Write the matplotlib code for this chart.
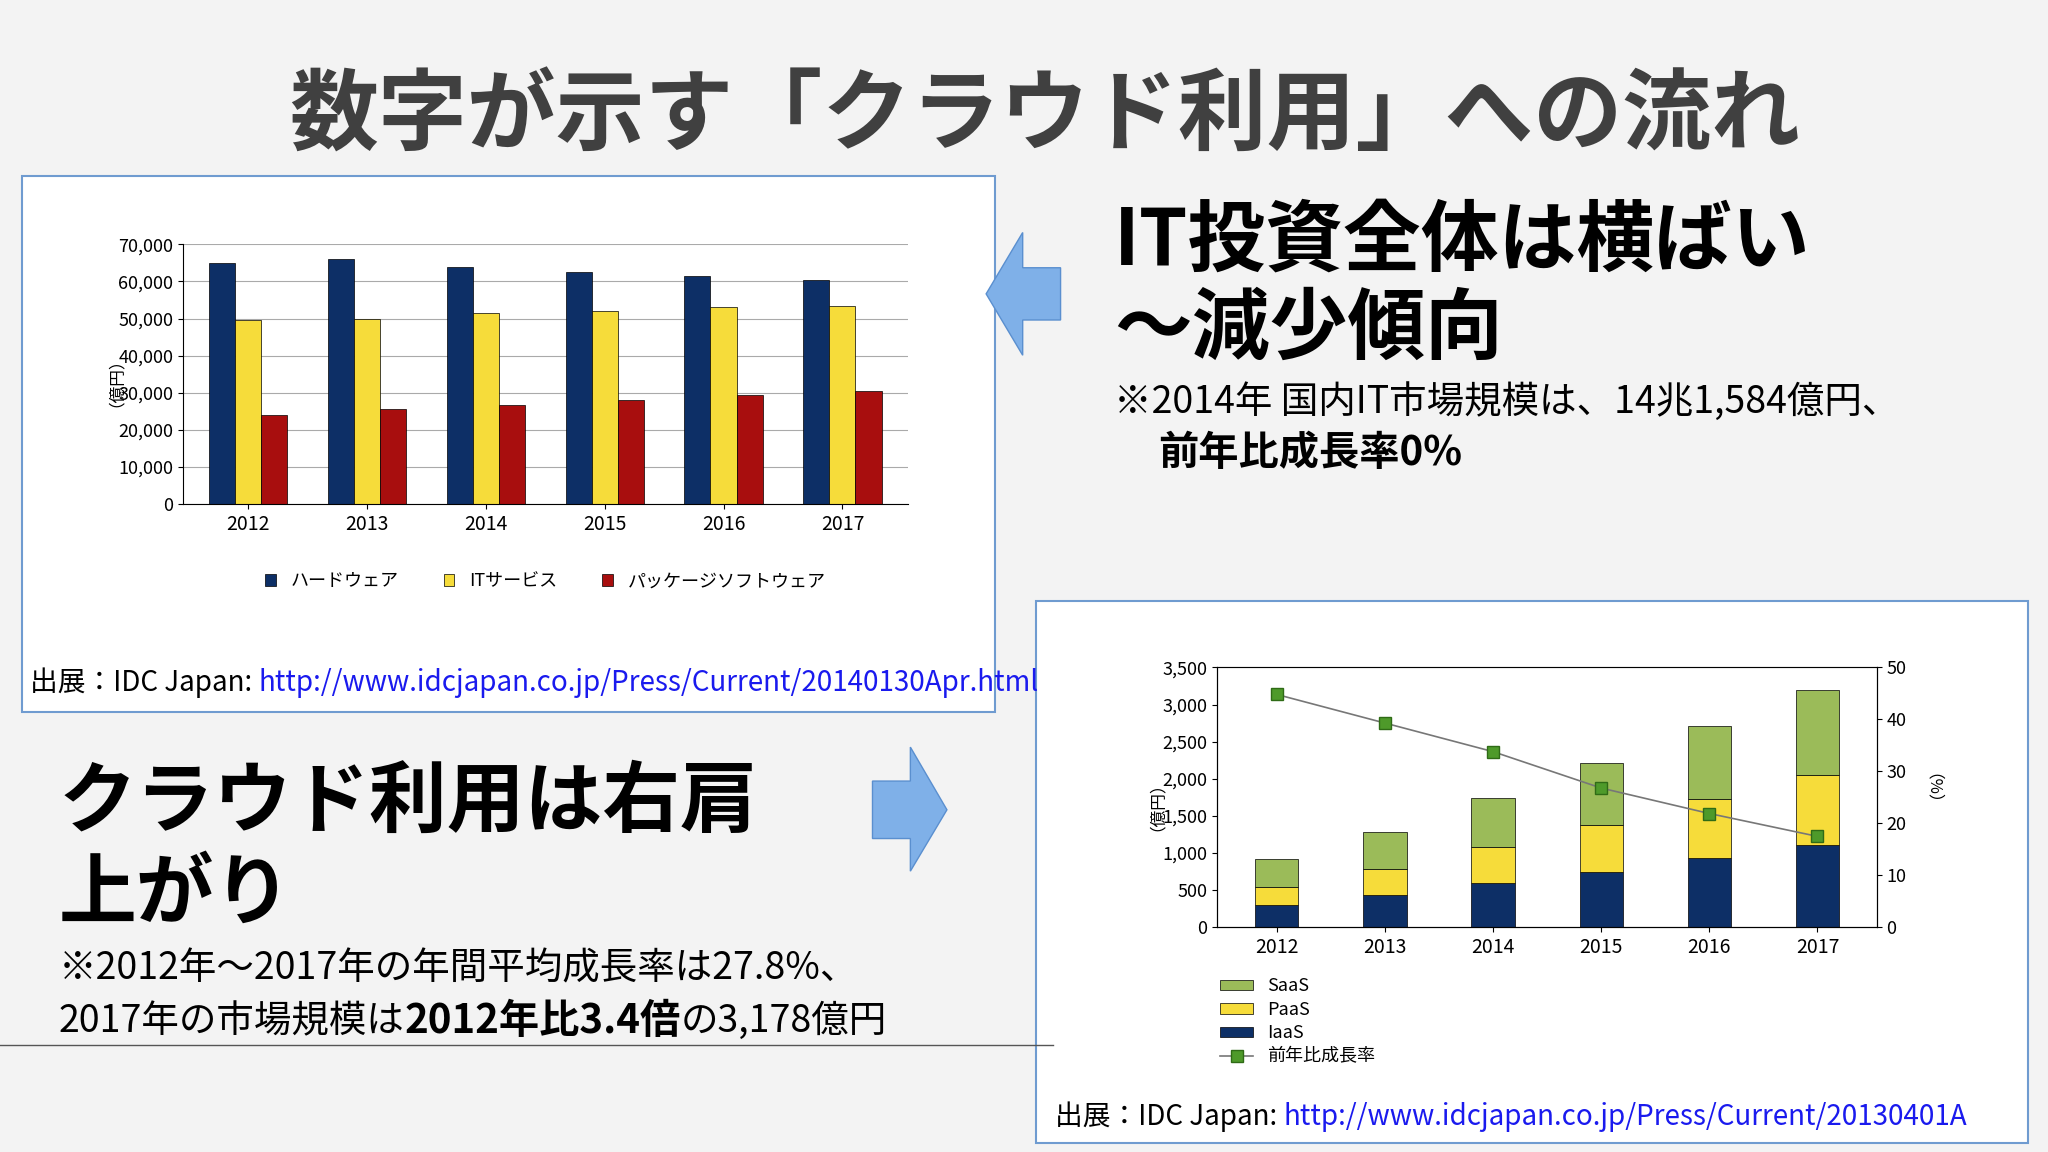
import matplotlib
matplotlib.use("Agg")
import matplotlib.pyplot as plt
import numpy as np
from matplotlib.patches import Rectangle, Polygon

plt.rcParams['font.family'] = ['Noto Sans CJK JP', 'DejaVu Sans']

years = ['2012', '2013', '2014', '2015', '2016', '2017']
hardware = [65000, 66000, 64000, 62500, 61500, 60500]
itservice = [49500, 50000, 51500, 52000, 53000, 53500]
package = [24000, 25500, 26800, 28000, 29300, 30500]

iaas = [300, 440, 600, 750, 940, 1110]
paas = [250, 350, 480, 630, 790, 940]
saas = [370, 500, 660, 830, 980, 1140]
growth = [44.8, 39.3, 33.8, 26.8, 21.9, 17.5]

W, H = 1568, 882
fig = plt.figure(figsize=(20.48, 11.52), dpi=100)
fig.patch.set_facecolor('#f3f3f3')

def fx(x): return x / W
def fy(y): return 1 - y / H

fig.text(0.51, fy(90), '数字が示す「クラウド利用」への流れ', ha='center', va='center',
         fontsize=64, fontweight='bold', color='#404040')

# frames
for (x0, y0, x1, y1) in [(17, 135, 762, 545), (793, 460, 1553, 875)]:
    fig.patches.append(Rectangle((fx(x0), fy(y1)), fx(x1 - x0), (y1 - y0) / H,
                                 transform=fig.transFigure, facecolor='white',
                                 edgecolor='#6f9bd0', lw=1.5, zorder=-5))

# chart 1
ax1 = fig.add_axes([fx(140), fy(386), fx(555), (386 - 187) / H])
ax1.set_zorder(5)
x = np.arange(len(years))
w = 0.22
ax1.bar(x - w, hardware, w, color='#0d2f66', edgecolor='black', lw=0.5, label='ハードウェア')
ax1.bar(x, itservice, w, color='#f6dc3a', edgecolor='black', lw=0.5, label='ITサービス')
ax1.bar(x + w, package, w, color='#a80e0e', edgecolor='black', lw=0.5, label='パッケージソフトウェア')
ax1.set_ylim(0, 70000)
ax1.set_xlim(-0.55, 5.55)
ax1.set_yticks(range(0, 70001, 10000))
ax1.set_yticklabels([f'{v:,}' for v in range(0, 70001, 10000)], fontsize=13)
ax1.set_xticks(x)
ax1.set_xticklabels(years, fontsize=14)
ax1.yaxis.grid(True, color='#aaaaaa', lw=0.8)
ax1.set_axisbelow(True)
for s in ['top', 'right']:
    ax1.spines[s].set_visible(False)
ax1.set_ylabel('（億円）', fontsize=12, labelpad=2)
ax1.legend(loc='upper center', bbox_to_anchor=(0.5, -0.2), ncol=3, frameon=False,
           fontsize=13, handlelength=0.6, handleheight=0.6, columnspacing=2.5)

# chart 2
ax2 = fig.add_axes([fx(932), fy(710), fx(505), (710 - 511) / H])
ax2.set_zorder(5)
w2 = 0.4
ax2.bar(x, iaas, w2, color='#0d2f66', edgecolor='black', lw=0.5, label='IaaS')
ax2.bar(x, paas, w2, bottom=iaas, color='#f6dc3a', edgecolor='black', lw=0.5, label='PaaS')
bot = np.array(iaas) + np.array(paas)
ax2.bar(x, saas, w2, bottom=bot, color='#9bbb59', edgecolor='black', lw=0.5, label='SaaS')
ax2.set_ylim(0, 3500)
ax2.set_xlim(-0.55, 5.55)
ax2.set_yticks(range(0, 3501, 500))
ax2.set_yticklabels([f'{v:,}' for v in range(0, 3501, 500)], fontsize=13)
ax2.set_xticks(x)
ax2.set_xticklabels(years, fontsize=14)
ax2.spines['top'].set_color('#888888')
ax2.set_ylabel('（億円）', fontsize=12)
ax2b = ax2.twinx()
ax2b.set_zorder(6)
ln, = ax2b.plot(x, growth, color='#777777', lw=1.2, marker='s', ms=8,
                markerfacecolor='#4e9a2a', markeredgecolor='#2f6b16', label='前年比成長率')
ax2b.set_ylim(0, 50)
ax2b.set_yticks(range(0, 51, 10))
ax2b.tick_params(labelsize=13)
ax2b.set_ylabel('（%）', fontsize=12, rotation=270, labelpad=18)
h, l = ax2.get_legend_handles_labels()
ax2.legend(h[::-1] + [ln], l[::-1] + ['前年比成長率'], loc='upper left',
           bbox_to_anchor=(-0.02, -0.13), frameon=False, fontsize=13,
           handlelength=1.8, handleheight=0.5, labelspacing=0.3)

# arrows
fig.patches.append(Polygon([[fx(755), fy(225)], [fx(783), fy(178)], [fx(783), fy(205)],
                            [fx(812), fy(205)], [fx(812), fy(245)], [fx(783), fy(245)],
                            [fx(783), fy(272)]], closed=True, transform=fig.transFigure,
                           facecolor='#7fb0e8', edgecolor='#5a8fcf'))
fig.patches.append(Polygon([[fx(725), fy(620)], [fx(697), fy(572)], [fx(697), fy(598)],
                            [fx(668), fy(598)], [fx(668), fy(642)], [fx(697), fy(642)],
                            [fx(697), fy(667)]], closed=True, transform=fig.transFigure,
                           facecolor='#7fb0e8', edgecolor='#5a8fcf'))

# right texts
fig.text(fx(853), fy(185), 'IT投資全体は横ばい', fontsize=56, fontweight='bold', va='center')
fig.text(fx(853), fy(253), '～減少傾向', fontsize=56, fontweight='bold', va='center')
fig.text(fx(853), fy(308), '※2014年 国内IT市場規模は、14兆1,584億円、', fontsize=27, va='center')
fig.text(fx(887), fy(347), '前年比成長率0%', fontsize=29, fontweight='bold', va='center')

fig.text(fx(45), fy(615), 'クラウド利用は右肩', fontsize=56, fontweight='bold', va='center')
fig.text(fx(45), fy(685), '上がり', fontsize=56, fontweight='bold', va='center')
fig.text(fx(45), fy(742), '※2012年～2017年の年間平均成長率は27.8%、', fontsize=27, va='center')

fig.canvas.draw()
r = fig.canvas.get_renderer()
def seq(x0, y, parts):
    xx = x0
    for s, kw in parts:
        t = fig.text(xx, y, s, va='center', **kw)
        bb = t.get_window_extent(r)
        xx += bb.width / fig.bbox.width
seq(fx(45), fy(782), [('2017年の市場規模は', dict(fontsize=27)),
                      ('2012年比3.4倍', dict(fontsize=29, fontweight='bold')),
                      ('の3,178億円', dict(fontsize=27))])
seq(fx(23), fy(523), [('出展：IDC Japan: ', dict(fontsize=20)),
                      ('http://www.idcjapan.co.jp/Press/Current/20140130Apr.html',
                       dict(fontsize=20, color='#1a1aee'))])
seq(fx(808), fy(855), [('出展：IDC Japan: ', dict(fontsize=20)),
                       ('http://www.idcjapan.co.jp/Press/Current/20130401A',
                        dict(fontsize=20, color='#1a1aee'))])

fig.add_artist(plt.Line2D([0, fx(806)], [fy(800), fy(800)], color='#555555', lw=1))

fig.savefig('out.png', dpi=100, facecolor=fig.get_facecolor())
